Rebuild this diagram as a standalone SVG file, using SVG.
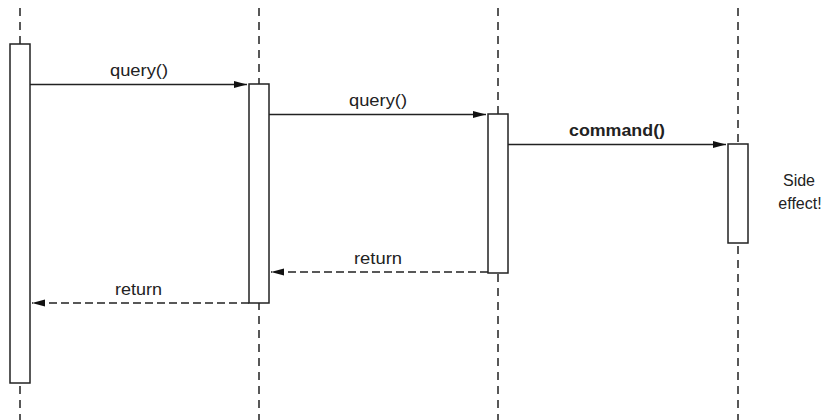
<svg xmlns="http://www.w3.org/2000/svg" width="827" height="420" viewBox="0 0 827 420">
<style>
.life{stroke:#222;stroke-width:1.5;stroke-dasharray:8 6;fill:none}
.act{fill:#fff;stroke:#222;stroke-width:1.5}
.call{stroke:#222;stroke-width:1.3;fill:none}
.ret{stroke:#222;stroke-width:1.3;fill:none;stroke-dasharray:8 4}
text{font-family:"Liberation Sans",Arial,sans-serif;font-size:16px;fill:#222;text-anchor:middle}
.b{font-weight:bold}
</style>
<defs>
<marker id="ah" markerWidth="13" markerHeight="8" refX="13" refY="4" orient="auto" markerUnits="userSpaceOnUse">
<path d="M0,0.5 L13,4 L0,7.5 Z" fill="#111"/>
</marker>
</defs>
<g id="lifelines">
<line class="life" x1="20" y1="8" x2="20" y2="420"/>
<line class="life" x1="259" y1="8" x2="259" y2="420"/>
<line class="life" x1="498" y1="8" x2="498" y2="420"/>
<line class="life" x1="738" y1="8" x2="738" y2="420"/>
</g>
<g id="act1"><rect class="act" x="10" y="44" width="20" height="339"/></g>
<g id="act2"><rect class="act" x="249" y="84" width="20" height="219"/></g>
<g id="act3"><rect class="act" x="488" y="114" width="20" height="159"/></g>
<g id="act4"><rect class="act" x="728" y="144" width="20" height="99"/></g>
<g id="connectors">
<line class="call" x1="30" y1="84.5" x2="247" y2="84.5" marker-end="url(#ah)"/>
<line class="call" x1="269" y1="114.5" x2="486" y2="114.5" marker-end="url(#ah)"/>
<line class="call" x1="508" y1="144.5" x2="726" y2="144.5" marker-end="url(#ah)"/>
<line class="ret" x1="488" y1="272" x2="271" y2="272" marker-end="url(#ah)"/>
<line class="ret" x1="249" y1="303" x2="32" y2="303" marker-end="url(#ah)"/>
</g>
<g id="labels">
<text x="139" y="76" textLength="58" lengthAdjust="spacingAndGlyphs">query()</text>
<text x="378" y="106" textLength="58" lengthAdjust="spacingAndGlyphs">query()</text>
<text class="b" x="617" y="136" textLength="96" lengthAdjust="spacingAndGlyphs">command()</text>
<text x="378" y="264" textLength="48" lengthAdjust="spacingAndGlyphs">return</text>
<text x="138.5" y="295" textLength="47" lengthAdjust="spacingAndGlyphs">return</text>
<text x="799" y="186">Side</text>
<text x="800" y="209">effect!</text>
</g>
</svg>
